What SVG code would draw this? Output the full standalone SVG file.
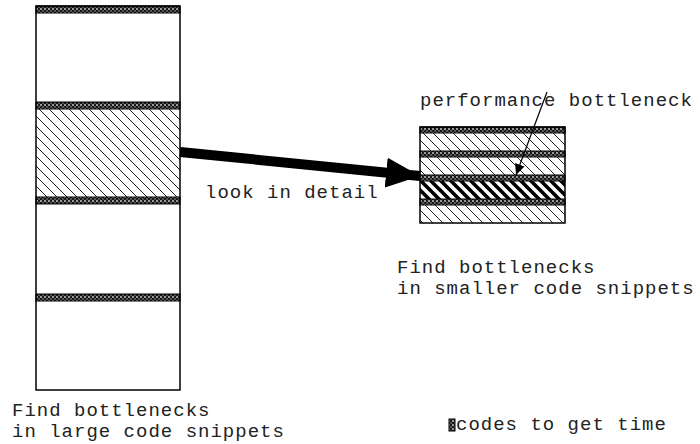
<svg xmlns="http://www.w3.org/2000/svg" width="700" height="444" viewBox="0 0 700 444">
  <style>
    .lbl { font-family: "Liberation Mono", "Courier New", monospace; font-size: 19px; letter-spacing: 1px; fill: #222; }
    .frame { fill: none; stroke: #000; stroke-width: 1.5; }
    .band { fill: url(#timer); stroke: #000; stroke-width: 1; }
    .hatch { fill: url(#hatch); }
    .dense { fill: url(#dense); }
  </style>
  <defs>
    <!-- timing-code band texture: dark with light dots -->
    <pattern id="timer" patternUnits="userSpaceOnUse" width="4" height="4">
      <rect width="4" height="4" fill="#1a1a1a"/>
      <rect x="0" y="0" width="2" height="2" fill="#999"/>
      <rect x="2" y="2" width="2" height="2" fill="#555"/>
    </pattern>
    <!-- thin diagonal hatch -->
    <pattern id="hatch" patternUnits="userSpaceOnUse" width="10" height="10">
      <rect width="10" height="10" fill="#fff"/>
      <path d="M-5,5 L5,15 M0,0 L10,10 M5,-5 L15,5" stroke="#222" stroke-width="1"/>
    </pattern>
    <!-- heavy diagonal hatch for the bottleneck -->
    <pattern id="dense" patternUnits="userSpaceOnUse" width="10" height="10">
      <rect width="10" height="10" fill="#fff"/>
      <path d="M-5,5 L5,15 M0,0 L10,10 M5,-5 L15,5" stroke="#000" stroke-width="3.6"/>
    </pattern>
    <marker id="bigHead" markerUnits="userSpaceOnUse" markerWidth="36" markerHeight="30" refX="34" refY="15" orient="auto">
      <path d="M0,0 L34,15 L0,30 Z" fill="#000"/>
    </marker>
    <marker id="thinHead" markerUnits="userSpaceOnUse" markerWidth="12" markerHeight="10" refX="11" refY="5" orient="auto">
      <path d="M0,0 L11,5 L0,10 Z" fill="#000"/>
    </marker>
  </defs>

  <!-- large program -->
  <g id="large-code">
    <rect x="36" y="6" width="144" height="384" fill="#fff"/>
    <rect class="hatch" x="36" y="109" width="144" height="88"/>
    <rect class="band" x="36" y="6" width="144" height="7"/>
    <rect class="band" x="36" y="102" width="144" height="7"/>
    <rect class="band" x="36" y="197" width="144" height="7"/>
    <rect class="band" x="36" y="294" width="144" height="7"/>
    <rect class="frame" x="36" y="6" width="144" height="384"/>
  </g>

  <!-- detailed snippet -->
  <g id="small-code">
    <rect class="hatch" x="420" y="133" width="145" height="18"/>
    <rect class="hatch" x="420" y="157" width="145" height="18"/>
    <rect class="dense" x="420" y="181" width="145" height="18"/>
    <rect class="hatch" x="420" y="205" width="145" height="18"/>
    <rect class="band" x="420" y="127" width="145" height="6"/>
    <rect class="band" x="420" y="151" width="145" height="6"/>
    <rect class="band" x="420" y="175" width="145" height="6"/>
    <rect class="band" x="420" y="199" width="145" height="6"/>
    <rect class="frame" x="420" y="127" width="145" height="96"/>
  </g>

  <g id="connectors">
    <line x1="180" y1="152" x2="420" y2="176" stroke="#000" stroke-width="10" marker-end="url(#bigHead)"/>
    <line x1="547" y1="92" x2="516" y2="175" stroke="#000" stroke-width="1.2" marker-end="url(#thinHead)"/>
  </g>

  <g id="labels">
    <text class="lbl" x="205" y="198">look in detail</text>
    <text class="lbl" x="420" y="106">performance bottleneck</text>
    <text class="lbl" x="397" y="273">Find bottlenecks</text>
    <text class="lbl" x="397" y="294">in smaller code snippets</text>
    <text class="lbl" x="12" y="416">Find bottlenecks</text>
    <text class="lbl" x="12" y="437">in large code snippets</text>
  </g>

  <g id="legend">
    <rect class="band" x="449" y="419" width="6" height="12"/>
    <text class="lbl" x="456" y="430">codes to get time</text>
  </g>
</svg>
